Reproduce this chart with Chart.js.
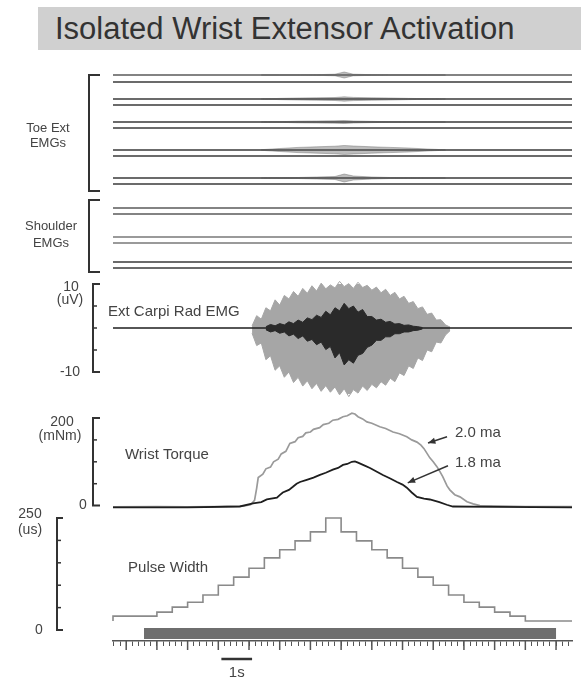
<!DOCTYPE html>
<html>
<head>
<meta charset="utf-8">
<script src="https://cdn.jsdelivr.net/npm/chart.js@4"></script>
<style>
  body { margin: 0; background: #fff; }
  #figure { position: relative; width: 581px; height: 680px; overflow: hidden; font-family: "Liberation Sans", Arial, sans-serif; }
  #title { position: absolute; left: 38px; top: 7px; width: 543px; height: 43px; background: #d0d0d0; color: #333; font-size: 31px; line-height: 43px; padding-left: 17px; box-sizing: border-box; white-space: nowrap; }
  canvas { position: absolute; left: 0; }
</style>
</head>
<body>
<div id="figure">
  <div id="title">Isolated Wrist Extensor Activation</div>
  <canvas id="emgTraces" width="581" height="215" style="top:62px"></canvas>
  <canvas id="ecrEmg" width="581" height="125" style="top:277px"></canvas>
  <canvas id="torque" width="581" height="110" style="top:402px"></canvas>
  <canvas id="pulse" width="581" height="172" style="top:508px"></canvas>
</div>
<script>
// time window of the recording (s)
const T_MIN = -0.43;
const T_MAX = 14.52;

// stacked toe extensor + shoulder EMG channels (display offset, top channel = 0)
const channelOffset = [0, -7, -24, -30, -47, -53, -75, -81, -103, -109, -133, -139, -162, -168, -187, -193];

// burst envelopes (half amplitude) on some toe channels
const burstTime = [4.4, 5.0, 5.6, 6.2, 6.8, 7.1, 7.4, 8.0, 8.6, 9.2, 9.8, 10.4];
const burstCh0 = [0, 0, 0, 0.3, 0.8, 3.0, 0.8, 0.3, 0, 0, 0, 0];
const burstCh2 = [0, 0.6, 1.0, 1.2, 1.5, 2.2, 1.6, 1.2, 1.0, 0.6, 0.3, 0];
const burstCh4 = [0, 0.3, 0.8, 1.0, 1.2, 1.5, 1.0, 0.6, 0.3, 0, 0, 0];
const burstCh6 = [0.3, 1.5, 2.6, 3.2, 3.8, 4.5, 4.0, 3.2, 2.6, 2.0, 1.0, 0.2];
const burstCh8 = [0, 0.3, 0.5, 1.0, 1.5, 4.0, 2.0, 1.0, 0.5, 0.3, 0, 0];

// Ext Carpi Rad EMG envelope (uV), 2.0 ma stimulation
const ecrTime20 = [4.10, 4.25, 4.40, 4.55, 4.70, 4.85, 5.00, 5.15, 5.30, 5.45, 5.60, 5.75, 5.90, 6.05, 6.20, 6.35, 6.50, 6.65, 6.80, 6.95, 7.10, 7.25, 7.40, 7.55, 7.70, 7.85, 8.00, 8.15, 8.30, 8.45, 8.60, 8.75, 8.90, 9.05, 9.20, 9.35, 9.50, 9.65, 9.80, 9.95, 10.10, 10.25, 10.40, 10.55];
const ecrHigh20 = [0.5, 2.8, 2.0, 4.6, 3.9, 6.4, 5.2, 7.4, 6.6, 8.3, 7.2, 9.0, 7.9, 9.6, 8.4, 10.2, 8.9, 9.8, 9.1, 10.6, 9.4, 10.1, 9.0, 10.4, 9.2, 9.7, 8.6, 9.3, 8.0, 8.8, 7.4, 8.1, 6.6, 7.2, 5.6, 6.0, 4.4, 4.8, 3.1, 3.4, 1.8, 1.9, 0.7, 0.2];
const ecrLow20 = [-1.2, -4.0, -3.4, -7.2, -6.3, -9.6, -8.6, -11.2, -10.0, -12.4, -11.2, -13.2, -12.0, -13.8, -12.6, -14.4, -13.1, -14.6, -13.4, -15.2, -13.8, -15.6, -14.0, -14.8, -13.2, -14.2, -12.8, -13.6, -12.2, -13.0, -11.4, -12.2, -10.2, -10.8, -8.6, -9.2, -6.8, -7.4, -5.0, -5.4, -3.2, -3.4, -1.6, -0.6];

// Ext Carpi Rad EMG envelope (uV), 1.8 ma stimulation
const ecrTime18 = [4.55, 4.70, 4.85, 5.00, 5.15, 5.30, 5.45, 5.60, 5.75, 5.90, 6.05, 6.20, 6.35, 6.50, 6.65, 6.80, 6.95, 7.10, 7.25, 7.40, 7.55, 7.70, 7.85, 8.00, 8.15, 8.30, 8.45, 8.60, 8.75, 8.90, 9.05, 9.20, 9.35, 9.50, 9.65];
const ecrHigh18 = [0.3, 0.8, 0.5, 1.0, 0.7, 1.4, 1.0, 1.8, 1.3, 2.3, 1.9, 2.9, 2.4, 3.8, 3.0, 4.6, 3.9, 5.6, 4.4, 5.0, 3.6, 4.2, 2.6, 2.6, 1.8, 2.0, 1.3, 1.5, 0.9, 1.0, 0.6, 0.7, 0.4, 0.3, 0.1];
const ecrLow18 = [-0.4, -0.9, -0.6, -1.2, -0.9, -1.8, -1.4, -2.4, -1.8, -3.0, -2.6, -3.8, -3.2, -4.9, -4.2, -6.8, -5.6, -8.4, -7.2, -8.0, -6.2, -5.8, -4.4, -3.9, -2.8, -2.8, -2.0, -2.0, -1.3, -1.3, -0.9, -0.9, -0.6, -0.5, -0.2];

// wrist torque (mNm)
const torqueTime20 = [-0.43, 1.0, 2.0, 3.0, 3.8, 4.05, 4.18, 4.25, 4.3, 4.45, 4.55, 4.7, 4.8, 4.95, 5.05, 5.2, 5.33, 5.5, 5.6, 5.75, 5.85, 6.0, 6.1, 6.3, 6.42, 6.6, 6.73, 6.9, 7.06, 7.2, 7.35, 7.45, 7.55, 7.7, 7.84, 8.0, 8.26, 8.45, 8.69, 8.9, 9.14, 9.3, 9.47, 9.6, 9.7, 9.89, 10.0, 10.12, 10.2, 10.31, 10.45, 10.54, 10.7, 10.87, 11.1, 11.3, 11.52, 13.0, 14.52];
const torque20 = [-3, -2, -3, -2, -1, 2, 12, 40, 64, 72, 84, 88, 100, 106, 118, 124, 142, 146, 155, 158, 166, 168, 174, 178, 185, 188, 195, 197, 203, 205, 211, 209, 203, 198, 191, 188, 180, 176, 168, 164, 157, 150, 145, 138, 130, 109, 100, 89, 80, 66, 45, 36, 25, 20, 9, 4, 0, -2, -2];
const torqueTime18 = [-0.43, 2.0, 3.7, 4.13, 4.4, 4.58, 4.91, 5.0, 5.1, 5.3, 5.43, 5.55, 5.66, 5.88, 6.1, 6.31, 6.5, 6.73, 6.9, 7.06, 7.2, 7.35, 7.45, 7.55, 7.75, 7.94, 8.15, 8.36, 8.6, 8.82, 9.0, 9.14, 9.3, 9.47, 9.7, 9.89, 10.2, 10.44, 10.64, 12.0, 14.52];
const torque18 = [-4, -4, -2, 5, 8, 14, 18, 24, 30, 36, 43, 50, 54, 59, 64, 70, 75, 82, 86, 93, 95, 100, 101, 98, 92, 86, 78, 70, 62, 54, 48, 41, 30, 20, 16, 14, 8, 2, -2, -3, -4];

// stimulus pulse width (us), each value holds until the next time
const pulseTime = [-0.43, 1.0, 1.5, 2.0, 2.5, 3.0, 3.5, 4.0, 4.5, 5.0, 5.5, 6.0, 6.5, 7.0, 7.5, 8.0, 8.5, 9.0, 9.5, 10.0, 10.5, 11.0, 11.5, 12.0, 12.5, 13.0, 13.5, 14.52];
const pulseWidth = [20, 31, 40, 51, 62, 78, 100, 118, 138, 161, 179, 199, 219, 250, 219, 199, 179, 161, 138, 118, 100, 78, 62, 51, 40, 31, 20, 20];

// stimulation on/off (s)
const stimTime = [0.58, 14.0];

function pts(xs, ys, shift = 0) {
  return xs.map((x, i) => ({ x, y: ys[i] + shift }));
}

const decorPlugin = {
  id: "decor",
  afterDatasetsDraw(chart, args, opts) {
    const ctx = chart.ctx;
    const xs = chart.scales.x;
    const ys = chart.scales.y;
    ctx.save();
    ctx.strokeStyle = "#333";
    ctx.fillStyle = "#333";
    (opts.brackets || []).forEach((b) => {
      const top = ys.getPixelForValue(b.from);
      const bot = ys.getPixelForValue(b.to);
      ctx.lineWidth = 2;
      ctx.beginPath();
      ctx.moveTo(b.x + b.cap, top);
      ctx.lineTo(b.x, top);
      ctx.lineTo(b.x, bot);
      ctx.lineTo(b.x + b.cap, bot);
      ctx.stroke();
      ctx.lineWidth = 1.5;
      (b.ticks || []).forEach((v) => {
        const py = ys.getPixelForValue(v);
        ctx.beginPath();
        ctx.moveTo(b.x, py);
        ctx.lineTo(b.x + 4, py);
        ctx.stroke();
      });
    });
    (opts.arrows || []).forEach((a) => {
      const x0 = xs.getPixelForValue(a.from[0]), y0 = ys.getPixelForValue(a.from[1]);
      const x1 = xs.getPixelForValue(a.to[0]), y1 = ys.getPixelForValue(a.to[1]);
      const ang = Math.atan2(y1 - y0, x1 - x0);
      ctx.lineWidth = 1.5;
      ctx.beginPath();
      ctx.moveTo(x0, y0);
      ctx.lineTo(x1, y1);
      ctx.stroke();
      ctx.beginPath();
      ctx.moveTo(x1, y1);
      ctx.lineTo(x1 - 8 * Math.cos(ang - 0.4), y1 - 8 * Math.sin(ang - 0.4));
      ctx.lineTo(x1 - 8 * Math.cos(ang + 0.4), y1 - 8 * Math.sin(ang + 0.4));
      ctx.closePath();
      ctx.fill();
    });
    (opts.texts || []).forEach((t) => {
      const px = t.t !== undefined ? xs.getPixelForValue(t.t) : t.x;
      ctx.font = (t.size || 14) + 'px "Liberation Sans", Arial, sans-serif';
      ctx.fillStyle = "#444";
      ctx.textAlign = t.align || "center";
      ctx.textBaseline = "middle";
      ctx.fillText(t.text, px, ys.getPixelForValue(t.v));
    });
    if (opts.majorTicks) {
      const axisY = chart.chartArea.bottom;
      ctx.strokeStyle = "#555";
      ctx.lineWidth = 1.5;
      opts.majorTicks.forEach((v) => {
        const px = xs.getPixelForValue(v);
        ctx.beginPath();
        ctx.moveTo(px, axisY);
        ctx.lineTo(px, axisY + 9);
        ctx.stroke();
      });
    }
    if (opts.scaleBar) {
      const sb = opts.scaleBar;
      const a = xs.getPixelForValue(sb.t0), b = xs.getPixelForValue(sb.t1);
      ctx.strokeStyle = "#333";
      ctx.lineWidth = 2.5;
      ctx.beginPath();
      ctx.moveTo(a, sb.y);
      ctx.lineTo(b, sb.y);
      ctx.stroke();
      ctx.font = '15px "Liberation Sans", Arial, sans-serif';
      ctx.fillStyle = "#444";
      ctx.textAlign = "center";
      ctx.textBaseline = "middle";
      ctx.fillText(sb.label, (a + b) / 2, sb.y + 14);
    }
    ctx.restore();
  },
};
Chart.register(decorPlugin);

function makeOptions(padding, y, decor, x) {
  return {
    responsive: false,
    animation: false,
    events: [],
    layout: { padding },
    elements: { point: { radius: 0 }, line: { tension: 0 } },
    scales: {
      x: x || { type: "linear", min: T_MIN, max: T_MAX, display: false },
      ...y,
    },
    plugins: { legend: { display: false }, tooltip: { enabled: false }, decor },
  };
}

function line(data, color, width, extra) {
  return { data, borderColor: color, borderWidth: width, pointRadius: 0, fill: false, clip: false, ...extra };
}

// ---- stacked toe / shoulder EMGs
// note: chart.js paints dataset 0 last (on top)
const traceColor = (i) => (i === 12 || i === 13 ? "#9a9a9a" : i === 0 || i === 10 || i === 11 ? "#5a5a5a" : "#3a3a3a");
const traceSets = [];
[[0, burstCh0], [2, burstCh2], [4, burstCh4], [6, burstCh6], [8, burstCh8]].forEach(([ch, amp]) => {
  const up = burstTime.map((t, i) => ({ x: t, y: channelOffset[ch] + amp[i] }));
  const dn = burstTime.map((t, i) => ({ x: t, y: channelOffset[ch] - amp[i] }));
  traceSets.push(line(up, "rgba(80,80,80,0.45)", 0.8, { fill: "+1", backgroundColor: "rgba(90,90,90,0.4)" }));
  traceSets.push(line(dn, "rgba(80,80,80,0.45)", 0.8));
});
channelOffset.forEach((off, i) => {
  traceSets.push(line([{ x: T_MIN, y: off }, { x: T_MAX, y: off }], traceColor(i), i === 12 || i === 13 ? 1.8 : 1.4));
});

new Chart(document.getElementById("emgTraces"), {
  type: "line",
  data: { datasets: traceSets },
  options: makeOptions(
    { left: 113, right: 9, top: 8, bottom: 4 },
    { y: { type: "linear", min: -198, max: 5, display: false } },
    {
      brackets: [
        { x: 89, cap: 11, from: 0, to: -116 },
        { x: 89, cap: 11, from: -125, to: -197 },
      ],
      texts: [
        { x: 48, v: -53, text: "Toe Ext", size: 13 },
        { x: 48, v: -68, text: "EMGs", size: 13 },
        { x: 51, v: -151, text: "Shoulder", size: 13 },
        { x: 51, v: -168, text: "EMGs", size: 13 },
      ],
    }
  ),
});

// ---- Ext Carpi Rad EMG (1.8 ma on top, then baseline, then 2.0 ma underneath)
new Chart(document.getElementById("ecrEmg"), {
  type: "line",
  data: {
    datasets: [
      line(pts(ecrTime18, ecrHigh18), "#2a2a2a", 1, { fill: "+1", backgroundColor: "#2a2a2a" }),
      line(pts(ecrTime18, ecrLow18), "#2a2a2a", 1),
      line([{ x: T_MIN, y: 0 }, { x: T_MAX, y: 0 }], "#1e1e1e", 1.4),
      line(pts(ecrTime20, ecrHigh20), "#a6a6a6", 1, { fill: "+1", backgroundColor: "#a6a6a6" }),
      line(pts(ecrTime20, ecrLow20), "#a6a6a6", 1),
    ],
  },
  options: makeOptions(
    { left: 113, right: 9, top: 7, bottom: 8 },
    { y: { type: "linear", min: -15, max: 10, display: false } },
    {
      brackets: [{ x: 93, cap: 7, from: 10, to: -10, ticks: [5, 0, -5] }],
      texts: [
        { x: 71, v: 9.3, text: "10", size: 14 },
        { x: 70, v: 6.4, text: "(uV)", size: 14 },
        { x: 70, v: -10, text: "-10", size: 14 },
        { x: 108, v: 3.6, text: "Ext Carpi Rad EMG", size: 15, align: "left" },
      ],
    }
  ),
});

// ---- Wrist torque
new Chart(document.getElementById("torque"), {
  type: "line",
  data: {
    datasets: [
      line(pts(torqueTime18, torque18), "#1e1e1e", 1.8),
      line(pts(torqueTime20, torque20), "#9a9a9a", 1.7),
    ],
  },
  options: makeOptions(
    { left: 113, right: 9, top: 16, bottom: 2 },
    { y: { type: "linear", min: -10, max: 200, display: false } },
    {
      brackets: [{ x: 93, cap: 7, from: 200, to: 0, ticks: [50, 100, 150] }],
      arrows: [
        { from: [10.45, 157], to: [9.83, 143] },
        { from: [10.48, 91], to: [9.17, 52] },
      ],
      texts: [
        { x: 62, v: 191, text: "200", size: 14 },
        { x: 60, v: 159, text: "(mNm)", size: 14 },
        { x: 83, v: 0, text: "0", size: 14 },
        { t: -0.04, v: 116, text: "Wrist Torque", size: 15, align: "left" },
        { t: 10.71, v: 166, text: "2.0 ma", size: 15, align: "left" },
        { t: 10.71, v: 98, text: "1.8 ma", size: 15, align: "left" },
      ],
    }
  ),
});

// ---- Pulse width + stimulus bar + time axis
const minorTicks = [];
for (let k = -2; k <= 72; k++) minorTicks.push(Math.round(k * 0.2 * 10) / 10);
const majorTicks = minorTicks.filter((v) => Number.isInteger(v));

new Chart(document.getElementById("pulse"), {
  type: "line",
  data: {
    datasets: [
      line(pts(pulseTime, pulseWidth), "#8a8a8a", 1.6, { stepped: "after" }),
      line(stimTime.map((t) => ({ x: t, y: 1 })), "#6e6e6e", 11, { yAxisID: "yStim", borderCapStyle: "butt" }),
    ],
  },
  options: makeOptions(
    { left: 113, right: 9, top: 10, bottom: 34 },
    {
      y: { type: "linear", min: -24.5, max: 250, display: false },
      yStim: { type: "linear", min: 0, max: 16.4, display: false },
    },
    {
      brackets: [{ x: 57, cap: 6, from: 250, to: 0, ticks: [50, 100, 150, 200] }],
      texts: [
        { x: 30, v: 259, text: "250", size: 14 },
        { x: 30, v: 223, text: "(us)", size: 14 },
        { x: 39, v: 0, text: "0", size: 14 },
        { t: 0.06, v: 138, text: "Pulse Width", size: 15, align: "left" },
      ],
      majorTicks,
      scaleBar: { t0: 3.1, t1: 4.1, y: 151, label: "1s" },
    },
    {
      type: "linear",
      min: T_MIN,
      max: T_MAX,
      position: "bottom",
      border: { display: true, color: "#555", width: 1.5 },
      grid: { drawOnChartArea: false, drawTicks: true, tickLength: 5, tickColor: "#555", tickWidth: 1 },
      ticks: { display: false },
      afterBuildTicks: (scale) => {
        scale.ticks = minorTicks.map((v) => ({ value: v }));
      },
    }
  ),
});
</script>
</body>
</html>
